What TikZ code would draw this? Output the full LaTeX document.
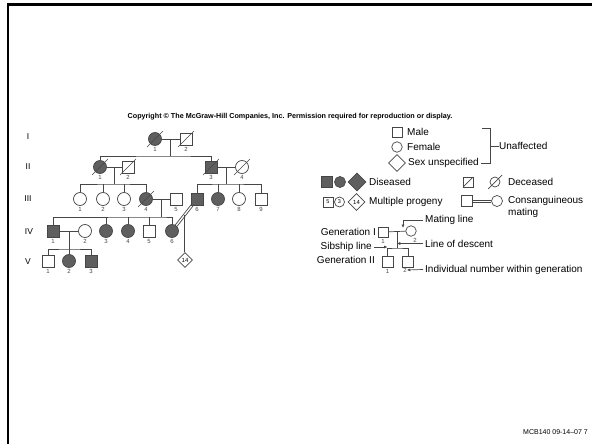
\documentclass[tikz,border=0pt]{standalone}
\usepackage{fontspec}
\setmainfont{Liberation Sans}
\usetikzlibrary{arrows.meta,positioning,calc,shapes.geometric}
\definecolor{pedline}{RGB}{70,70,70}
\definecolor{pedfill}{RGB}{95,95,95}
\newcommand{\deadmark}[2][8pt]{\draw[ln] ([shift={(-#1,-#1)}]#2.center) -- ([shift={(#1,#1)}]#2.center);}

\begin{document}
\begin{tikzpicture}[x=1pt, y=-1pt, >={Latex[length=3.4pt,width=3pt]},
  ln/.style={draw=pedline, line width=0.7pt},
  male/.style={ln, rectangle, minimum size=12pt, inner sep=0pt},
  female/.style={ln, circle, minimum size=13pt, inner sep=0pt},
  unsex/.style={ln, diamond, minimum size=15pt, inner sep=0pt, font=\fontsize{6}{6}\selectfont},
  aff/.style={fill=pedfill},
  num/.style={font=\fontsize{6}{6}\selectfont, text=pedline, inner sep=0pt},
  gen/.style={font=\fontsize{8.5}{9}\selectfont, inner sep=0pt},
  lgd/.style={font=\fontsize{10}{12}\selectfont, inner sep=0pt, anchor=west}]

\useasboundingbox (0,0) rectangle (592,444);
\clip (0,0) rectangle (592,444);
\draw[line width=2.4pt] (8,4.5) rectangle (640,480);

% --- header and footer ---
\node[font=\bfseries\fontsize{7.2}{8}\selectfont, inner sep=0pt] (copy) at (290,117)
  {Copyright \textcopyright{} The McGraw-Hill Companies, Inc. Permission required for reproduction or display.};
\node[font=\fontsize{7}{8}\selectfont, inner sep=0pt, anchor=east] (slide) at (588,432) {MCB140 09-14--07 7};

% --- generation numerals ---
\node[gen] (gI) at (28,137) {I};
\node[gen] (gII) at (28,167) {II};
\node[gen] (gIII) at (28,199) {III};
\node[gen] (gIV) at (29,232) {IV};
\node[gen] (gV) at (28,262) {V};

% --- generation I ---
\node[female, aff] (I1) at (155,139) {};
\node[male] (I2) at (186,139) {};
\deadmark{I1} \deadmark{I2}
\draw[ln] (I1) -- (I2);
\coordinate (m1) at ($(I1)!0.5!(I2)$);

% --- generation II ---
\node[female, aff] (II1) at (100,167) {};
\node[male] (II2) at (128,167) {};
\node[male, aff] (II3) at (211,167) {};
\node[female] (II4) at (242,167) {};
\foreach \n in {II1,II2,II3,II4}{ \deadmark{\n} }
\draw[ln] (m1) -- ++(0,17) coordinate (s1);
\draw[ln] (II1.north) |- (s1) -| (II3.north);
\draw[ln] (II1) -- (II2);
\draw[ln] (II3) -- (II4);
\coordinate (m2) at ($(II1)!0.5!(II2)$);
\coordinate (m3) at ($(II3)!0.5!(II4)$);

% --- generation III ---
\node[female] (III1) at (80,199) {};
\node[female] (III2) at (103,199) {};
\node[female] (III3) at (124,199) {};
\node[female, aff] (III4) at (146,199) {};
\node[male] (III5) at (176,199) {};
\node[male, aff] (III6) at (197,199) {};
\node[female, aff] (III7) at (218,199) {};
\node[female] (III8) at (239,199) {};
\node[male] (III9) at (261,199) {};
\deadmark{III4}
\draw[ln] (m2) -- ++(0,17) coordinate (s2);
\draw[ln] (III1.north) |- (s2) -| (III4.north);
\foreach \n in {III2,III3}{ \draw[ln] (\n.north) -- (\n.north |- s2); }
\draw[ln] (m3) -- ++(0,17) coordinate (s3);
\draw[ln] (III6.north) |- (s3) -| (III9.north);
\foreach \n in {III7,III8}{ \draw[ln] (\n.north) -- (\n.north |- s3); }
\draw[ln] (III4) -- (III5);
\coordinate (m4) at ($(III4)!0.5!(III5)$);

% --- generation IV ---
\node[male, aff] (IV1) at (53,231) {};
\node[female] (IV2) at (85,231) {};
\node[female, aff] (IV3) at (106,231) {};
\node[female, aff] (IV4) at (128,231) {};
\node[male] (IV5) at (149,231) {};
\node[female, aff] (IV6) at (172,231) {};
\draw[ln] (m4) -- ++(0,18) coordinate (s4);
\draw[ln] (IV1.north) |- (s4) -| (IV6.north);
\foreach \n in {IV3,IV4,IV5}{ \draw[ln] (\n.north) -- (\n.north |- s4); }
\draw[ln] (IV1) -- (IV2);
\coordinate (m5) at ($(IV1)!0.5!(IV2)$);

% --- consanguineous mating and its progeny ---
\node[unsex] (d14) at (185,260) {14};
\coordinate (cm) at ($(III6)!0.5!(IV6)$);
\draw[ln] (cm) -- (cm |- d14.north);
\draw[ln, transform canvas={shift={(0.9pt,-0.7pt)}}] (III6) -- (IV6);
\draw[ln, transform canvas={shift={(-0.9pt,0.7pt)}}] (III6) -- (IV6);

% --- generation V ---
\node[male] (V1) at (48,261) {};
\node[female, aff] (V2) at (69,261) {};
\node[male, aff] (V3) at (91,261) {};
\draw[ln] (m5) -- ++(0,18) coordinate (s5);
\draw[ln] (V1.north) |- (s5) -| (V3.north);
\draw[ln] (V2.north) -- (V2.north |- s5);

% --- individual numbers ---
\foreach \n/\t in {I1/1,I2/2,II1/1,II2/2,II3/3,II4/4,III1/1,III2/2,III3/3,III4/4,III5/5,
  III6/6,III7/7,III8/8,III9/9,IV1/1,IV2/2,IV3/3,IV4/4,IV5/5,IV6/6,V1/1,V2/2,V3/3}{
  \node[num, below=1.6pt of \n] (n\n) {\t};
}

% --- legend: unaffected ---
\node[male, minimum size=10pt] (lmale) at (397,132) {};
\node[female, minimum size=10.5pt] (lfem) at (397,147) {};
\node[unsex, minimum size=17pt] (lunk) at (397,163) {};
\node[lgd] (tmale) at (407,132) {Male};
\node[lgd] (tfem) at (407,147) {Female};
\node[lgd] (tunk) at (408,163) {Sex unspecified};
\draw[ln] (482,128) -- (490,128) -- (490,163) -- ([xshift=2pt]tunk.east);
\node[lgd] (tunaff) at (499,146) {Unaffected};
\draw[ln] (490,146) -- (tunaff.west);

% --- legend: diseased / multiple progeny ---
\node[male, aff, minimum size=11pt] (dm) at (327,182) {};
\node[female, aff, minimum size=11pt] (df) at (340,182) {};
\node[unsex, aff, minimum size=18pt] (du) at (357,182) {};
\node[lgd] (tdis) at (369,182) {Diseased};
\node[male, minimum size=10pt, font=\fontsize{5.5}{6}\selectfont] (pm) at (328,202) {5};
\node[female, minimum size=10pt, font=\fontsize{5.5}{6}\selectfont] (pf) at (339.5,202) {3};
\node[unsex, minimum size=17pt] (pu) at (356.5,202) {14};
\node[lgd] (tprog) at (369,202) {Multiple progeny};

% --- legend: deceased / consanguineous ---
\node[male, minimum size=10pt] (xm) at (468,182) {};
\node[female, minimum size=10pt] (xf) at (495,182) {};
\deadmark[5pt]{xm} \deadmark[7pt]{xf}
\node[lgd] (tdec) at (508,182) {Deceased};
\node[male, minimum size=11pt] (cgm) at (466.5,201) {};
\node[female, minimum size=11pt] (cgf) at (497,201) {};
\draw[ln, transform canvas={yshift=1.1pt}] (cgm) -- (cgf);
\draw[ln, transform canvas={yshift=-1.1pt}] (cgm) -- (cgf);
\node[lgd, align=left] (tcons) at (508,207) {Consanguineous\\mating};

% --- legend: how to read a pedigree ---
\node[male, minimum size=10pt] (g1m) at (383,232) {};
\node[female, minimum size=10.5pt] (g1f) at (411,231) {};
\draw[ln] (g1m) -- (g1f);
\node[male, minimum size=11pt] (g2a) at (387.5,262) {};
\node[male, minimum size=11pt] (g2b) at (408,262) {};
\coordinate (gm) at ($(g1m.east)!0.5!(g1f.west)$);
\draw[ln] (gm) -- (gm |- 0,248) coordinate (gs);
\draw[ln] (g2a.north) |- (gs) -| (g2b.north);
\node[num, below=1.6pt of g1m] (ng1m) {1};
\node[num] (ng1f) at (415,240.5) {2};
\node[num, below=1.6pt of g2a] (ng2a) {1};
\node[num] (ng2b) at (405,270) {2};
\node[lgd, anchor=east] (tgen1) at (376,232) {Generation I};
\node[lgd, anchor=east] (tgen2) at (375,260) {Generation II};
\node[lgd, anchor=east] (tsib) at (372,247) {Sibship line};
\node[lgd] (tmate) at (425,220) {Mating line};
\node[lgd] (tdesc) at (425,243.5) {Line of descent};
\node[lgd] (tind) at (425,269.5) {Individual number within generation};
\draw[ln, ->] ([xshift=-2pt]tmate.west) -| (403,228);
\draw[ln, ->] ([xshift=-2pt]tdesc.west) -- (tdesc.west -| gm);
\draw[ln, ->] ([xshift=2pt]tsib.east) -- (tsib.east -| g2a);
\draw[ln, ->] ([xshift=-2pt]tind.west) -- (ng2b.east);
\end{tikzpicture}
\end{document}
